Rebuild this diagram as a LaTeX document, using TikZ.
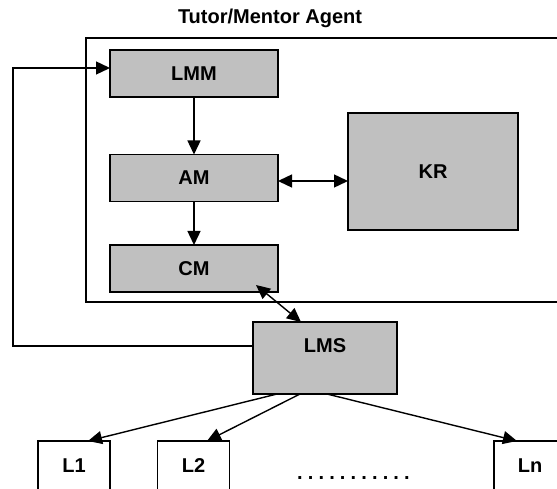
\documentclass[tikz,border=0pt]{standalone}
\usepackage{fontspec}
\setmainfont{Liberation Sans}
\usetikzlibrary{arrows.meta}
\definecolor{boxgray}{HTML}{C0C0C0}
\newcommand\labelfont{\fontsize{20}{23}\selectfont\bfseries}
\begin{document}
\begin{tikzpicture}[x=1pt,y=-1pt,
  lw/.style={line width=1.4pt},
  gbox/.style={draw, lw, fill=boxgray, inner sep=0pt, outer sep=0pt, font=\labelfont},
  wbox/.style={draw, lw, fill=white, inner sep=0pt, outer sep=0pt, minimum width=72pt, minimum height=50pt, font=\labelfont},
  lbl/.style={font=\labelfont, inner sep=0pt, outer sep=0pt},
  arr/.style={lw, -{Triangle[length=14pt,width=13pt]}},
  darr/.style={lw, {Triangle[length=14pt,width=13pt]}-{Triangle[length=14pt,width=13pt]}}]
\clip (0,0) rectangle (557,489);
\fill[white] (0,0) rectangle (557,489);
% title and agent frame
\node[lbl, anchor=base west] (title) at (178,24) {Tutor/Mentor Agent};
\node[draw, lw, inner sep=0pt, outer sep=0pt, minimum width=534pt, minimum height=264pt, anchor=north west] (agent) at (86,38) {};
% grey boxes
\node[gbox, minimum width=168pt, minimum height=47pt] (lmm) at (194,73.5) {LMM};
\node[gbox, minimum width=168pt, minimum height=47pt] (am) at (194,178) {AM};
\node[gbox, minimum width=168pt, minimum height=47pt] (cm) at (194,268.5) {CM};
\node[gbox, minimum width=170pt, minimum height=117pt] (kr) at (433,171.5) {KR};
\node[gbox, minimum width=144pt, minimum height=72pt] (lms) at (325,358) {};
\node[lbl] (lmstxt) at (325,346) {LMS};
% learners
\node[wbox] (l1) at (74,466) {L1};
\node[wbox] (l2) at (193.5,466) {L2};
\node[wbox] (ln) at (530,466) {Ln};
\node[lbl, anchor=base west] (dots) at (294.6,479.5) {\foreach \i in {1,...,11}{\makebox[10.7pt]{.}}};
% connector points
\coordinate (fbA) at (13,346);
\coordinate (fbB) at (13,68);
\coordinate (akY) at (0,181);
\coordinate (cmTip) at (256,285);
\coordinate (lmsTip) at (301,322);
\coordinate (s1) at (277,394);
\coordinate (s2) at (300,394);
\coordinate (sn) at (327,394);
\coordinate (t1) at (88,441);
\coordinate (t2) at (207,441);
\coordinate (tn) at (517,441);
% connectors
\draw[arr] (lms.west |- fbA) -- (fbA) -- (fbB) -- (lmm.west |- fbB);
\draw[arr] (lmm.south) -- (am.north);
\draw[arr] (am.south) -- (cm.north);
\draw[darr] (am.east |- akY) -- (kr.west |- akY);
\draw[darr] (cmTip) -- (lmsTip);
\draw[arr] (s1) -- (t1);
\draw[arr] (s2) -- (t2);
\draw[arr] (sn) -- (tn);
\end{tikzpicture}
\end{document}
